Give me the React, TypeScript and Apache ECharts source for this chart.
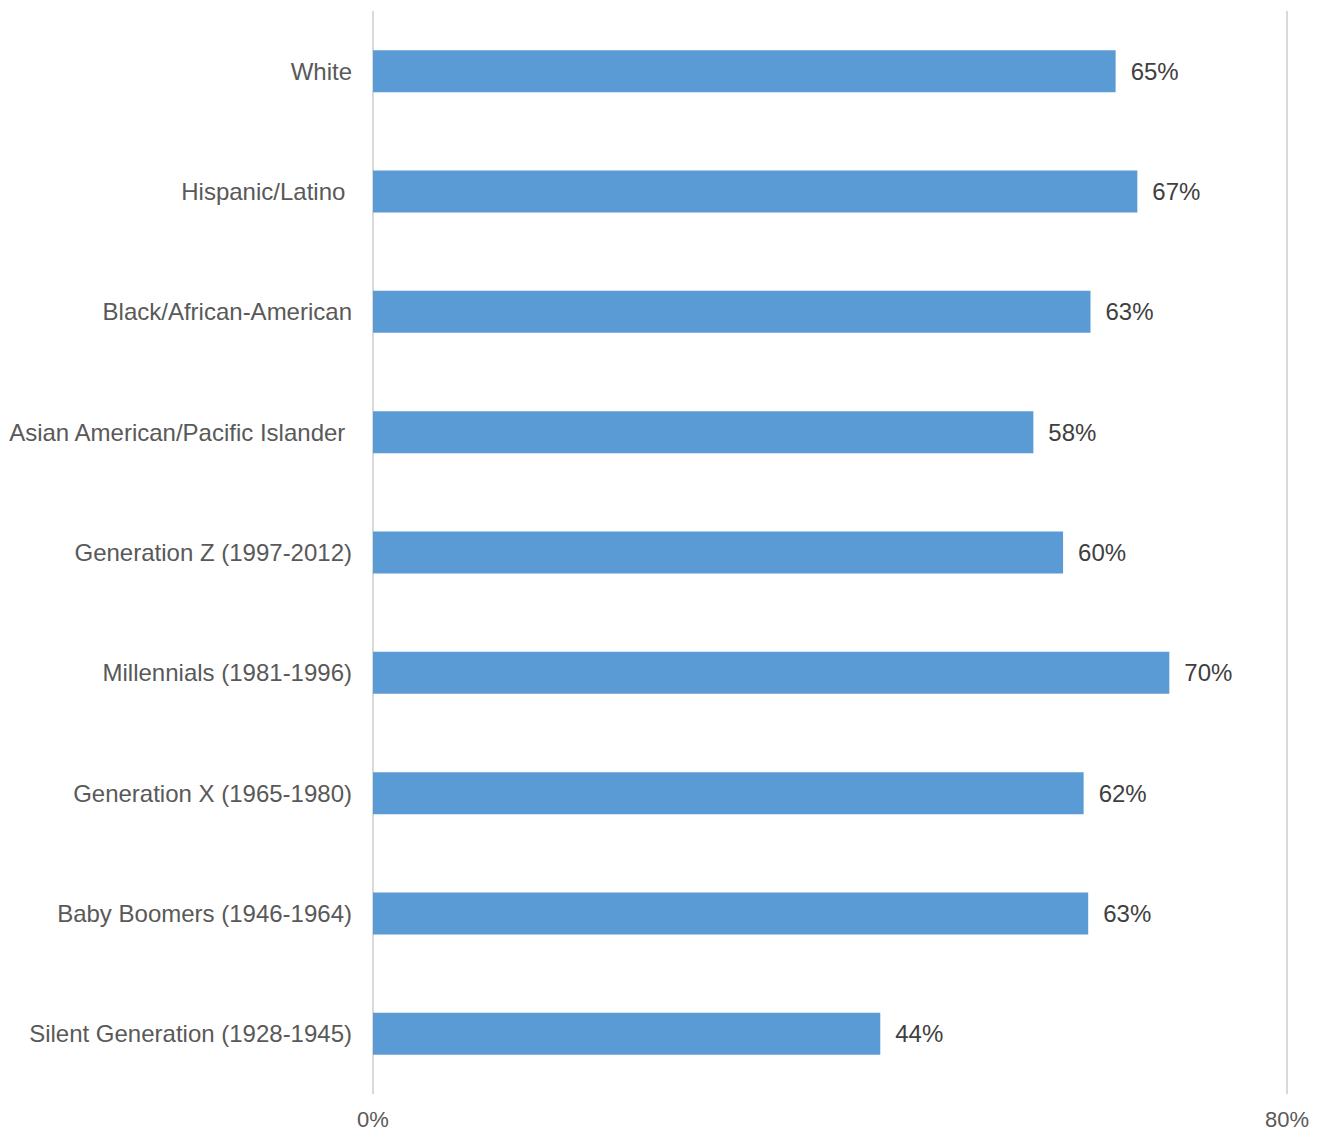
import React, { useEffect, useRef } from "react";
import * as echarts from "echarts";

const categories = [
  "White",
  "Hispanic/Latino ",
  "Black/African-American",
  "Asian American/Pacific Islander ",
  "Generation Z (1997-2012)",
  "Millennials (1981-1996)",
  "Generation X (1965-1980)",
  "Baby Boomers (1946-1964)",
  "Silent Generation (1928-1945)",
];
const values = [65.0, 66.9, 62.8, 57.8, 60.4, 69.7, 62.2, 62.6, 44.4];
const axisMin = 0;
const axisMax = 80;

export default function App() {
  const ref = useRef<HTMLDivElement>(null);
  useEffect(() => {
    const chart = echarts.init(ref.current!, null, { renderer: "svg" });
    chart.setOption({
      animation: false,
      grid: {
        left: 373,
        right: 36,
        top: 11,
        bottom: 38,
        containLabel: false,
        outerBoundsMode: "none",
      },
      xAxis: {
        type: "value",
        min: axisMin,
        max: axisMax,
        interval: 80,
        axisLine: { show: false },
        axisTick: { show: false },
        splitLine: { show: true, lineStyle: { color: "#d9d9d9", width: 2 } },
        axisLabel: {
          formatter: (v: number) => v + "%",
          color: "#595959",
          fontSize: 22,
          lineHeight: 18,
          fontFamily: "Liberation Sans, Arial, sans-serif",
          margin: 16,
        },
      },
      yAxis: {
        type: "category",
        inverse: true,
        data: categories,
        axisLine: { show: false },
        axisTick: { show: false },
        axisLabel: {
          color: "#595959",
          fontSize: 24,
          fontFamily: "Liberation Sans, Arial, sans-serif",
          margin: 21,
        },
      },
      series: [
        {
          type: "bar",
          data: values,
          barWidth: 42,
          itemStyle: { color: "#5b9bd5" },
          label: {
            show: true,
            position: "right",
            distance: 15,
            formatter: (p: any) => Math.round(p.value) + "%",
            color: "#404040",
            fontSize: 24,
            fontFamily: "Liberation Sans, Arial, sans-serif",
          },
        },
      ],
    });
    return () => chart.dispose();
  }, []);
  return <div ref={ref} style={{ width: 1323, height: 1132, position: "absolute", left: 0, top: 0 }} />;
}
